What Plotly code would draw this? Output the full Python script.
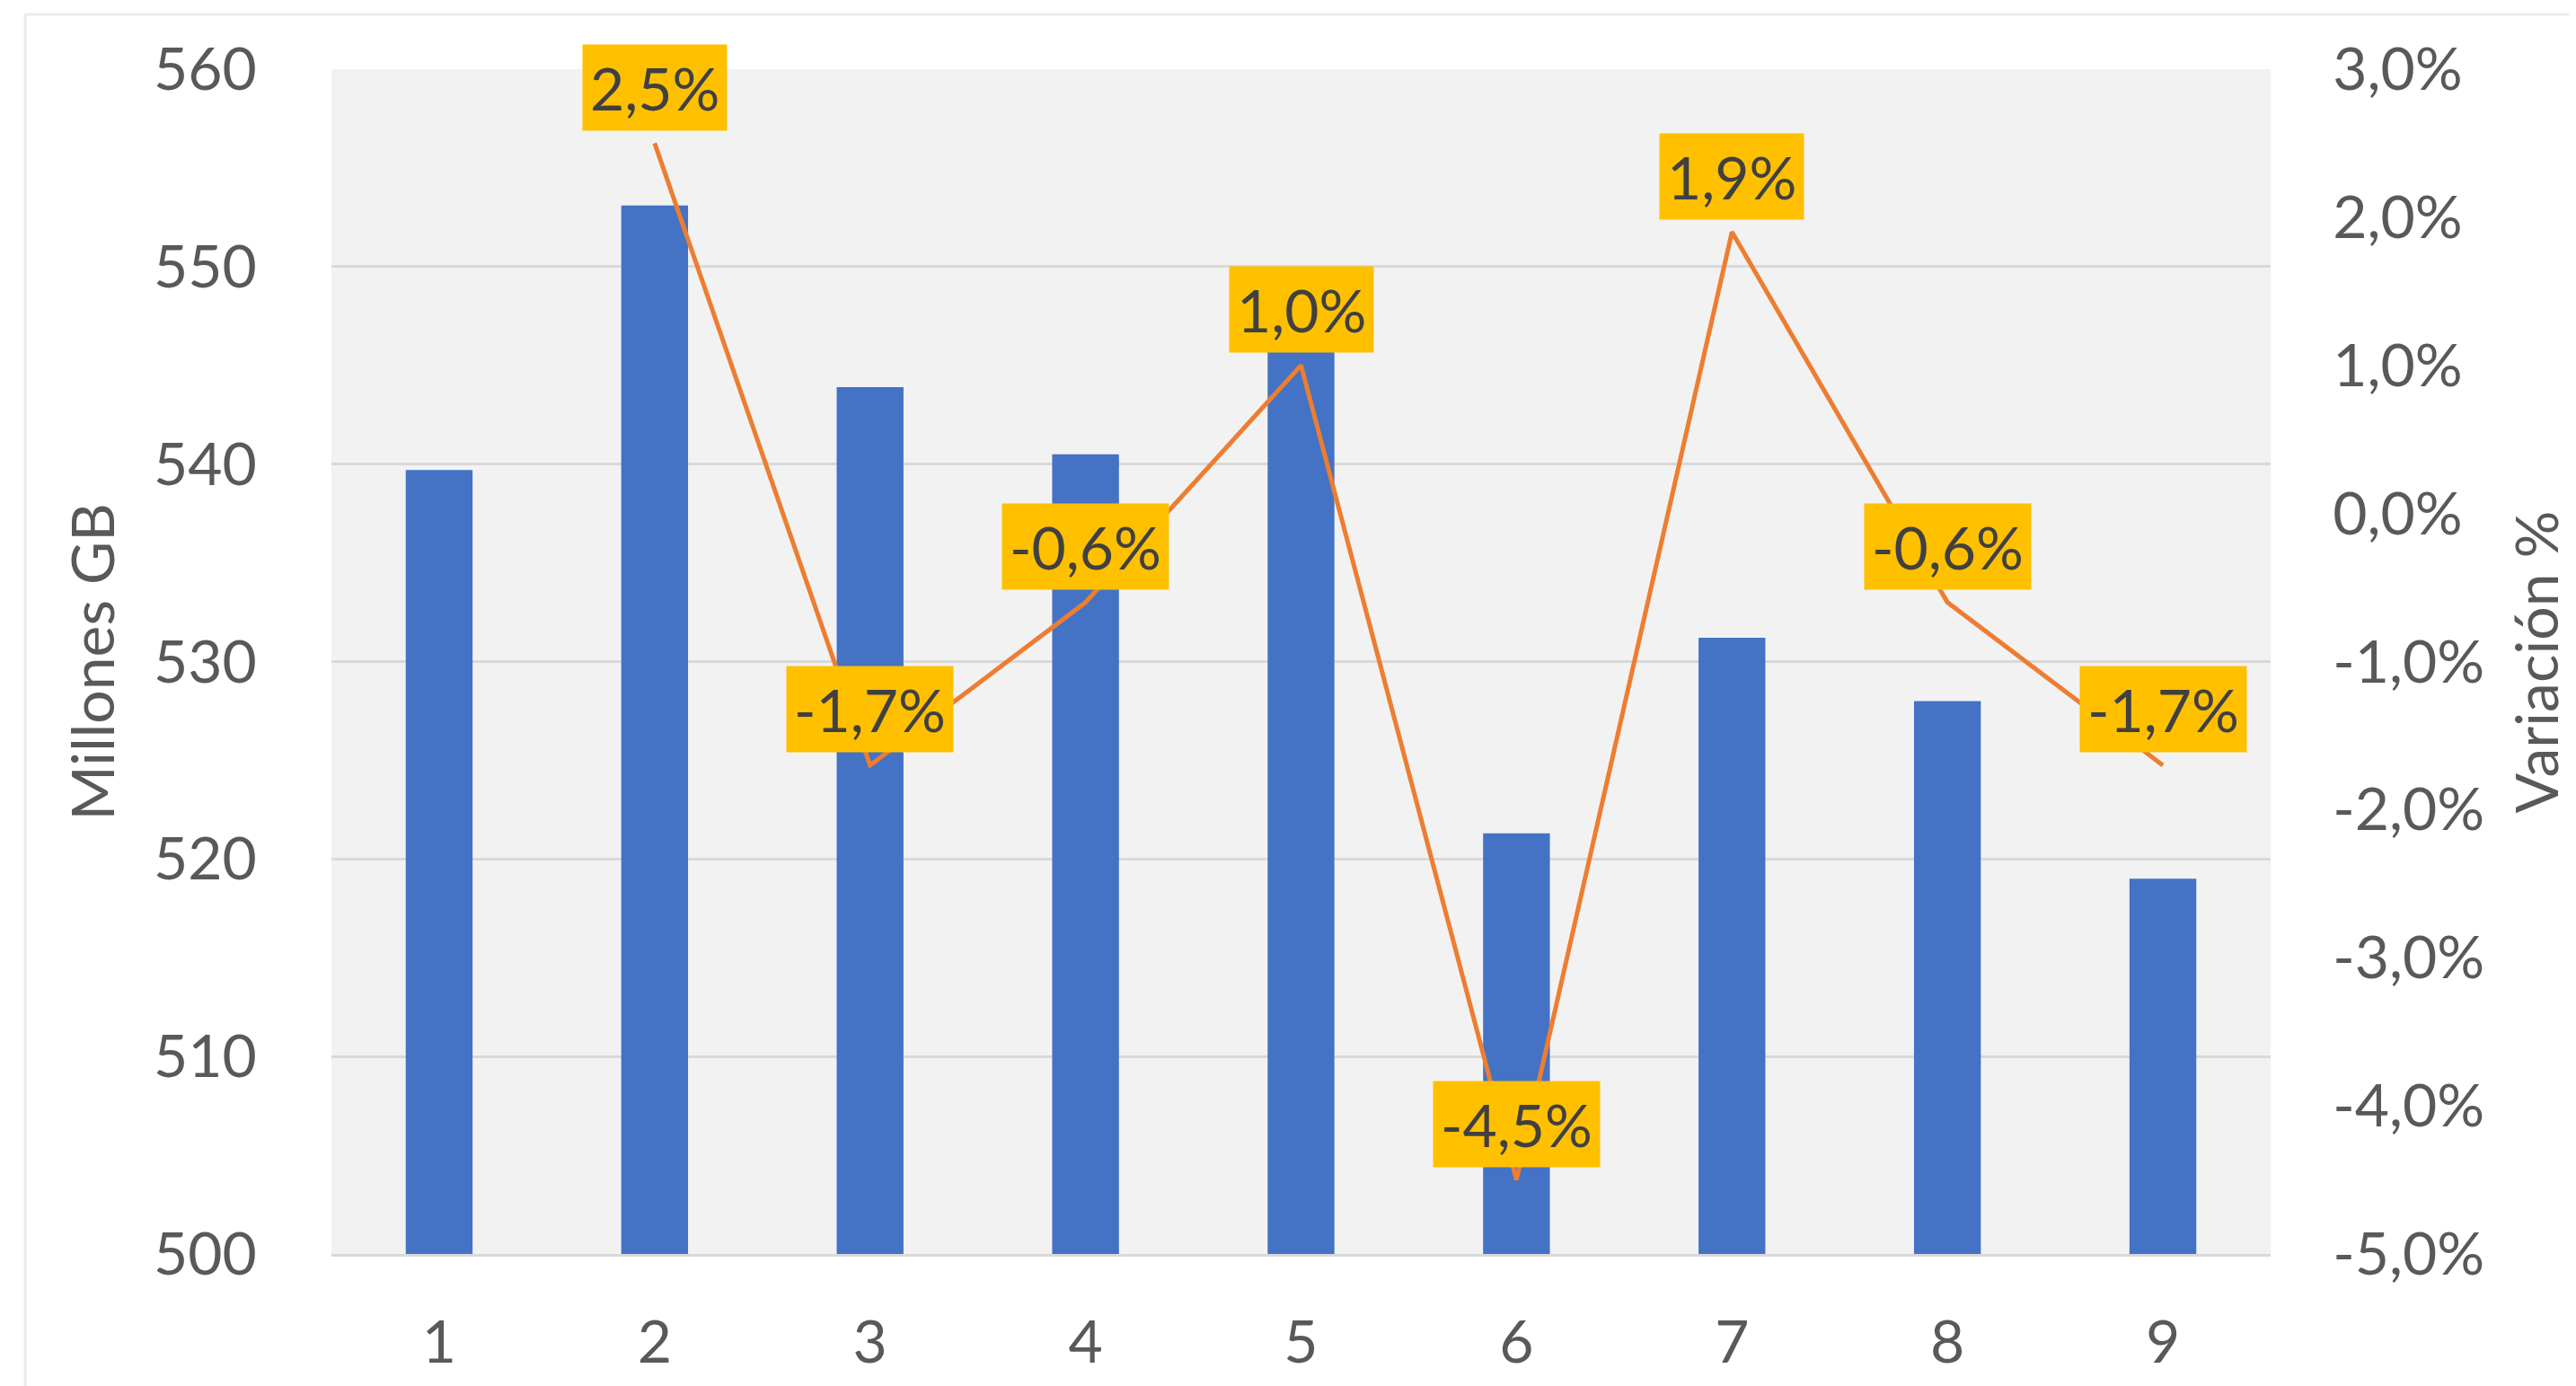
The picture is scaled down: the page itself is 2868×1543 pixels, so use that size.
import plotly.graph_objects as go

# ---- data ----
categories = [1, 2, 3, 4, 5, 6, 7, 8, 9]
millones_gb = [539.7, 553.1, 543.9, 540.5, 545.9, 521.3, 531.2, 528.0, 519.0]
variacion_pct = [None, 2.5, -1.7, -0.6, 1.0, -4.5, 1.9, -0.6, -1.7]
left_ticks = [500, 510, 520, 530, 540, 550, 560]
right_tick_vals = [-5, -4, -3, -2, -1, 0, 1, 2, 3]
right_tick_text = ["-5,0%", "-4,0%", "-3,0%", "-2,0%", "-1,0%", "0,0%", "1,0%", "2,0%", "3,0%"]
y_title_left = "Millones GB"
y_title_right = "Variación %"

FONT = "Lato"
TXT = "#595959"
FS = 66

fig = go.Figure()
fig.add_trace(go.Bar(x=categories, y=millones_gb, marker_color="#4472C4",
                     marker_line_width=0, yaxis="y", showlegend=False))
fig.add_trace(go.Scatter(x=categories, y=variacion_pct, mode="lines",
                         line=dict(color="#ED7D31", width=5), yaxis="y2",
                         showlegend=False, connectgaps=False))

annotations = []
for c, v in zip(categories, variacion_pct):
    if v is None:
        continue
    annotations.append(dict(
        x=c, y=v, xref="x", yref="y2", yshift=62, showarrow=False,
        text=f"{v:.1f}".replace(".", ",") + "%",
        font=dict(family=FONT, size=FS, color="#404040"),
        bgcolor="#FFC000", borderpad=8, xanchor="center", yanchor="middle"))

annotations.append(dict(x=-0.1237, y=0.5, xref="paper", yref="paper", text=y_title_left,
                        textangle=-90, showarrow=False, xanchor="center", yanchor="middle",
                        font=dict(family=FONT, size=FS, color=TXT)))
annotations.append(dict(x=1.1366, y=0.5, xref="paper", yref="paper", text=y_title_right,
                        textangle=-90, showarrow=False, xanchor="center", yanchor="middle",
                        font=dict(family=FONT, size=FS, color=TXT)))

fig.update_layout(
    width=2860, height=1535,
    margin=dict(l=361, r=340, t=69, b=147, autoexpand=False),
    paper_bgcolor="white", plot_bgcolor="#F2F2F2",
    bargap=0.69,
    font=dict(family=FONT, size=FS, color=TXT),
    xaxis=dict(range=[0.5, 9.5], tickvals=categories, ticktext=[str(c) for c in categories],
               ticks="outside", ticklen=39, tickcolor="rgba(0,0,0,0)",
               showgrid=False, showline=True, linecolor="#D9D9D9", linewidth=3,
               zeroline=False, tickfont=dict(family=FONT, size=FS, color=TXT)),
    yaxis=dict(range=[500, 560], tickvals=left_ticks, ticks="outside", ticklen=69,
               tickcolor="rgba(0,0,0,0)", showgrid=True, gridcolor="#D9D9D9", gridwidth=3,
               zeroline=False, showline=False, tickfont=dict(family=FONT, size=FS, color=TXT)),
    yaxis2=dict(range=[-5, 3], overlaying="y", side="right", tickvals=right_tick_vals,
                ticktext=right_tick_text, ticks="outside", ticklen=55,
                tickcolor="rgba(0,0,0,0)", showgrid=False, zeroline=False, showline=False,
                tickfont=dict(family=FONT, size=FS, color=TXT)),
    annotations=annotations,
    shapes=[
        dict(type="line", xref="paper", yref="paper", x0=-0.1579, x1=1.4, y0=1.0462, y1=1.0462,
             line=dict(color="#EBEBEB", width=3)),
        dict(type="line", xref="paper", yref="paper", x0=-0.1579, x1=-0.1579, y0=1.0462, y1=-0.2,
             line=dict(color="#EBEBEB", width=3)),
    ],
)

fig.write_html("out.html")
